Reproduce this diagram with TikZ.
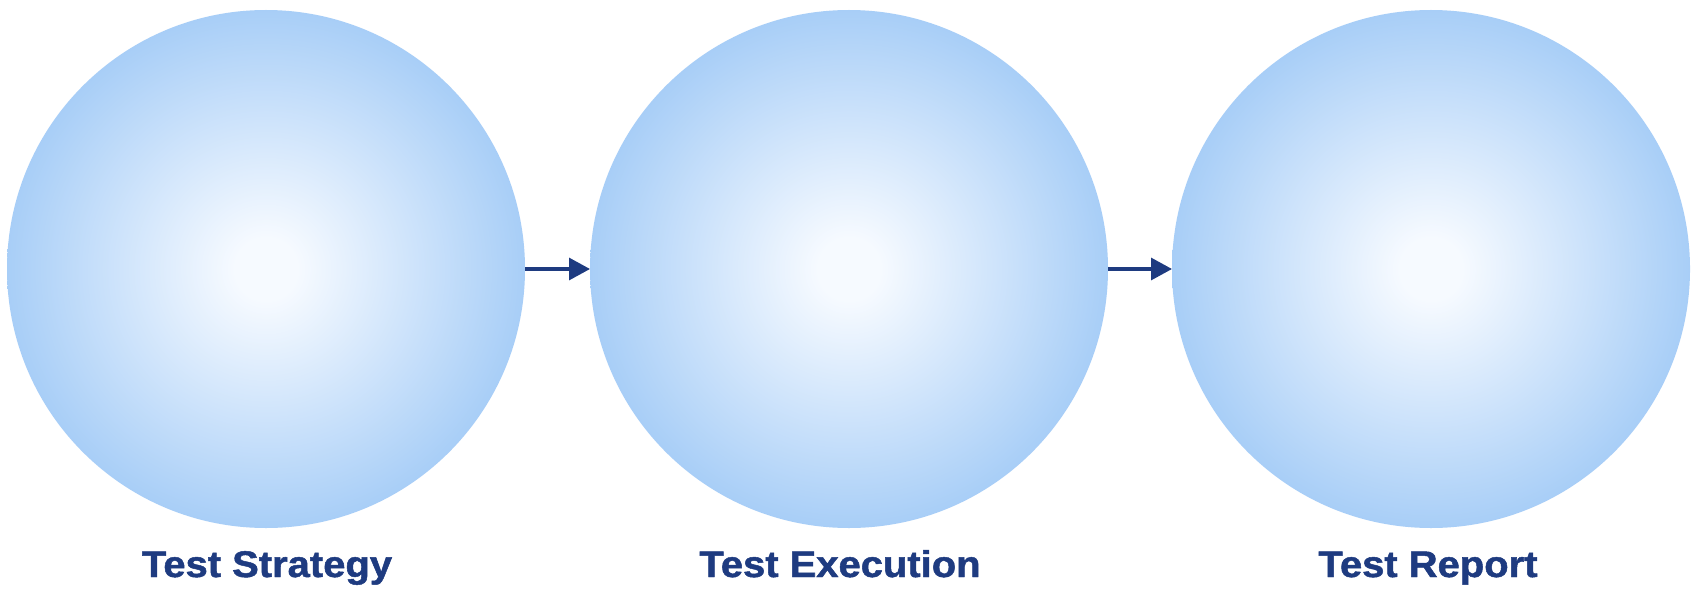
\documentclass[tikz,border=0pt]{standalone}
\usepackage{fontspec}
\setmainfont{Liberation Sans}
\newfontfamily\labelfont{Liberation Sans Bold}[FakeBold=1.3]
\usetikzlibrary{arrows.meta}
\definecolor{edgeblue}{HTML}{A8CEF7}
\definecolor{centerblue}{HTML}{F6FAFF}
\definecolor{navy}{HTML}{1E3B80}
\pgfdeclareradialshading{ballblue}{\pgfpoint{0bp}{0bp}}{color(0bp)=(centerblue); color(3bp)=(centerblue); color(25bp)=(edgeblue); color(50bp)=(edgeblue)}
\tikzset{
  stage/.style={circle, draw=none, shading=ballblue, minimum size=518pt, inner sep=0pt, outer sep=0pt},
  stagelabel/.style={anchor=base, text=navy, font=\fontsize{37}{40}\selectfont\labelfont, inner sep=0pt},
  flow/.style={draw=navy, line width=3.2pt, -{Triangle[length=21pt,width=22pt]}}
}
\begin{document}
\begin{tikzpicture}[x=1pt,y=-1pt]
\useasboundingbox[fill=white] (0,0) rectangle (1696,591);
\node[stage] (s1) at (266,269) {};
\node[stage] (s2) at (849,269) {};
\node[stage] (s3) at (1431,269) {};
\draw[flow] (s1.east) -- (s2.west);
\draw[flow] (s2.east) -- (s3.west);
\node[stagelabel] (l1) at (267,577) {\scalebox{1.08}[1]{Test Strategy}};
\node[stagelabel] (l2) at (840,577) {\scalebox{1.08}[1]{Test Execution}};
\node[stagelabel] (l3) at (1428,577) {\scalebox{1.08}[1]{Test Report}};
\end{tikzpicture}
\end{document}
